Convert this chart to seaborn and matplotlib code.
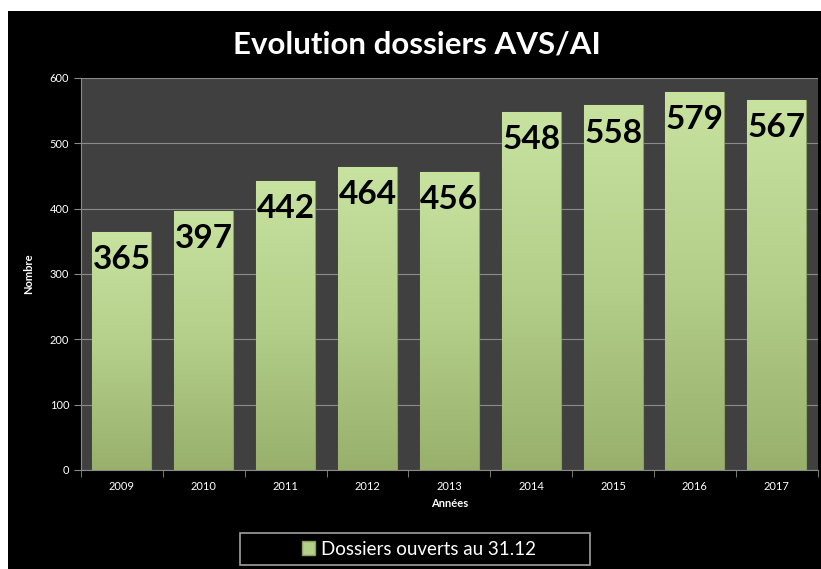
import numpy as np
import pandas as pd
import matplotlib
matplotlib.use('Agg')
import matplotlib.pyplot as plt
import seaborn as sns
from matplotlib.colors import LinearSegmentedColormap
from matplotlib.patches import Patch, Rectangle

# data
annees = ['2009', '2010', '2011', '2012', '2013', '2014', '2015', '2016', '2017']
dossiers = [365, 397, 442, 464, 456, 548, 558, 579, 567]

df = pd.DataFrame({'Années': annees, 'Nombre': dossiers})

sns.set_style('dark')
plt.rcParams['font.family'] = ['Lato', 'DejaVu Sans']

fig = plt.figure(figsize=(8.21, 5.69), dpi=100)
fig.patch.set_facecolor('white')
# black chart area (white margin top/left like the source screenshot)
fig.patches.append(Rectangle((8 / 821, -0.1), 1.2, 1.1 - 11 / 569, transform=fig.transFigure,
                             facecolor='black', edgecolor='none', zorder=-1))

ax = fig.add_axes([0.0987, 0.174, 0.8973, 0.689])
ax.set_facecolor('#404040')

sns.barplot(data=df, x='Années', y='Nombre', color='#b4cf8a', width=0.72,
            saturation=1, ax=ax, zorder=3)

# gradient fill on bars
cmap = LinearSegmentedColormap.from_list('g', ['#98b06c', '#b3cf89', '#c8e2a0'])
grad = np.linspace(0, 1, 256).reshape(-1, 1)
for bar in ax.patches:
    x0, y0 = bar.get_x(), bar.get_y()
    w, h = bar.get_width(), bar.get_height()
    im = ax.imshow(grad, cmap=cmap, aspect='auto', origin='lower',
                   extent=[x0, x0 + w, y0, y0 + h], zorder=4)
    im.set_clip_path(bar)
    bar.set_edgecolor('#8aa060')
    bar.set_linewidth(0.8)

for i, v in enumerate(dossiers):
    ax.annotate(str(v), (i, v), xytext=(0, -20), textcoords='offset points',
                ha='center', va='center', fontsize=24, fontweight='bold',
                color='black', zorder=6)

ax.set_xlim(-0.5, len(annees) - 0.5)
ax.set_ylim(0, 600)
ax.set_yticks(range(0, 601, 100))
ax.yaxis.grid(True, color='#8a8a8a', linewidth=0.8, zorder=0)
ax.xaxis.grid(False)
ax.set_axisbelow(True)

# x ticks between categories
ax.set_xticks(np.arange(len(annees)))
ax.set_xticklabels(annees)
ax.set_xticks(np.arange(-0.5, len(annees)), minor=True)
ax.tick_params(axis='x', which='major', length=0, colors='white', labelsize=8, pad=8)
ax.tick_params(axis='x', which='minor', length=5, color='#8a8a8a', bottom=True)
ax.tick_params(axis='y', length=5, color='#8a8a8a', colors='white', labelsize=8, left=True)

for s in ['top', 'right']:
    ax.spines[s].set_visible(False)
for s in ['left', 'bottom']:
    ax.spines[s].set_visible(True)
    ax.spines[s].set_color('#8a8a8a')

ax.set_xlabel('Années', color='white', fontsize=8, fontweight='bold', labelpad=4)
ax.set_ylabel('Nombre', color='white', fontsize=8, fontweight='bold', labelpad=11)

fig.text(0.508, 0.921, 'Evolution dossiers AVS/AI', ha='center', va='center',
         color='white', fontsize=22.5, fontweight='bold')

# legend box
fig.patches.append(Rectangle((240 / 821, 4 / 569), 350 / 821, 32 / 569,
                             transform=fig.transFigure, facecolor='black',
                             edgecolor='#a0a0a0', linewidth=1.2, zorder=1))
leg = fig.legend(handles=[Patch(facecolor='#b4cf8a', edgecolor='#8aa060',
                                label='Dossiers ouverts au 31.12')],
                 loc='center', bbox_to_anchor=(0.51, 0.035), frameon=False,
                 fontsize=13.5, handlelength=0.7, handleheight=0.7,
                 handletextpad=0.3, labelcolor='white')

fig.savefig('out.png', dpi=100, facecolor=fig.get_facecolor())
